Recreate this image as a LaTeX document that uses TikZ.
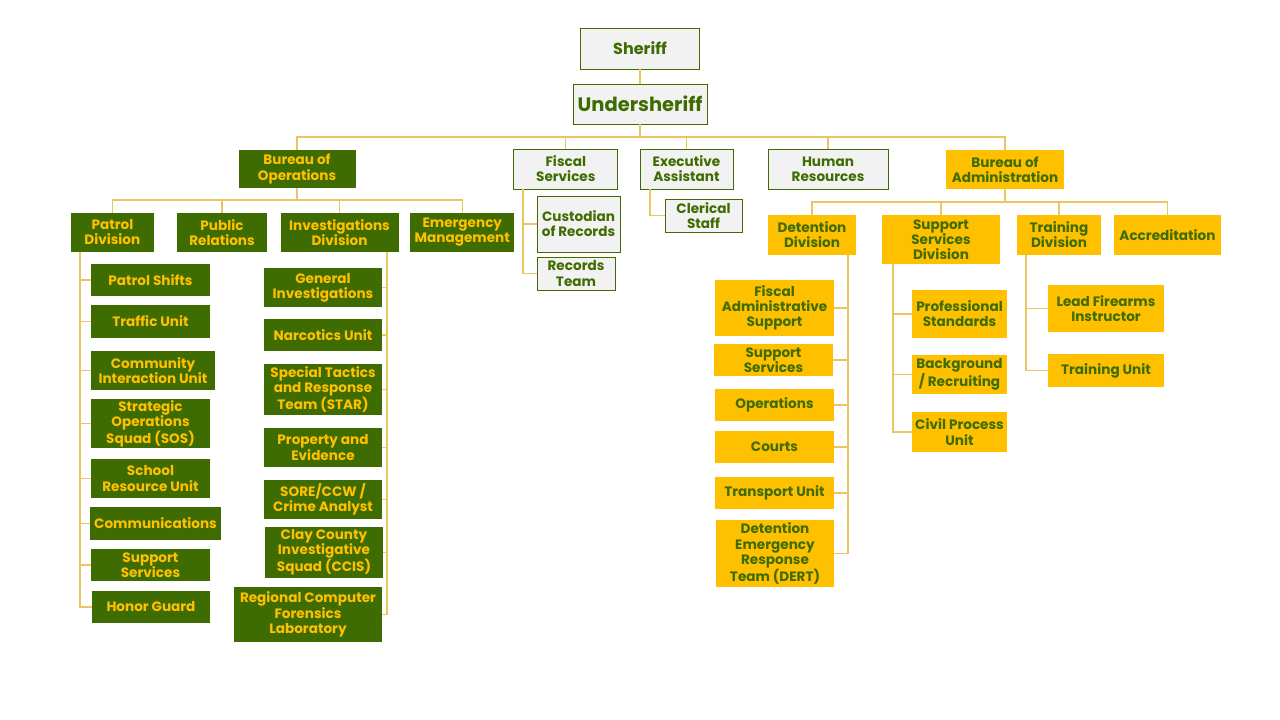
\documentclass[tikz,border=0pt]{standalone}
\usepackage{fontspec}
\setmainfont{Poppins}
\definecolor{dg}{HTML}{3E6C00}
\definecolor{yl}{HTML}{FFC000}
\definecolor{gy}{HTML}{F2F2F2}
\definecolor{ln}{HTML}{EBC660}
\tikzset{
  box/.style={inner sep=0pt, align=center, font=\fontsize{13.6}{15.2}\selectfont\bfseries},
  gbox/.style={box, fill=dg, text=yl},
  ybox/.style={box, fill=yl, text=dg},
  wbox/.style={box, fill=gy, text=dg, draw=dg, line width=0.8pt},
  sz/.style 2 args={minimum width=#1pt, minimum height=#2pt},
  conn/.style={draw=ln, line width=1.3pt},
}
\begin{document}
\begin{tikzpicture}[x=1pt,y=-1pt]
\useasboundingbox (0,0) rectangle (1280,720);
\fill[white] (0,0) rectangle (1280,720);

% ---------- top ----------
\node[wbox, sz={119}{41}, font=\fontsize{16}{18}\selectfont\bfseries] (sheriff) at (640,48.5) {Sheriff};
\node[wbox, sz={134}{40}, font=\fontsize{19.5}{22}\selectfont\bfseries] (under) at (640,104) {Undersheriff};

\node[gbox, sz={117}{38}] (boo) at (297,169) {Bureau of\\Operations};
\node[wbox, sz={104}{40}] (fiscal) at (565.8,169) {Fiscal\\Services};
\node[wbox, sz={93}{40}] (exec) at (686.5,169) {Executive\\Assistant};
\node[wbox, sz={120}{40}] (hr) at (828,169) {Human\\Resources};
\node[ybox, sz={118}{39}] (boa) at (1005,169.5) {Bureau of\\Administration};

% ---------- operations ----------
\node[gbox, sz={83}{39}] (patrol) at (112.4,232.3) {Patrol\\Division};
\node[gbox, sz={90}{39}] (pr) at (222,232.3) {Public\\Relations};
\node[gbox, sz={118}{39}] (inv) at (339.5,232.3) {Investigations\\Division};
\node[gbox, sz={104}{39}] (emg) at (462.3,232.3) {Emergency\\Management};

\node[gbox, sz={119}{32}] (ps) at (150.5,280) {Patrol Shifts};
\node[gbox, sz={119}{33}] (tu) at (150.5,321.5) {Traffic Unit};
\node[gbox, sz={124}{39}] (ciu) at (153,370.5) {Community\\Interaction Unit};
\node[gbox, sz={119}{49}] (sos) at (150.5,423.5) {Strategic\\Operations\\Squad (SOS)};
\node[gbox, sz={119}{39}] (sru) at (150.5,478.5) {School\\Resource Unit};
\node[gbox, sz={131}{33}] (com) at (155.5,523.5) {Communications};
\node[gbox, sz={119}{32}] (pss) at (150.5,565) {Support\\Services};
\node[gbox, sz={118}{32}] (hg) at (151,607) {Honor Guard};

\node[gbox, sz={118}{39}] (gi) at (323,287.5) {General\\Investigations};
\node[gbox, sz={118}{32}] (nu) at (323,335) {Narcotics Unit};
\node[gbox, sz={118}{51}] (star) at (323,389.5) {Special Tactics\\and Response\\Team (STAR)};
\node[gbox, sz={118}{39}] (pe) at (323,447.5) {Property and\\Evidence};
\node[gbox, sz={118}{39}] (sore) at (323,499.5) {SORE/CCW /\\Crime Analyst};
\node[gbox, sz={118}{51}] (ccis) at (324,552.5) {Clay County\\Investigative\\Squad (CCIS)};
\node[gbox, sz={148}{55}] (rcfl) at (308,614.5) {Regional Computer\\Forensics\\Laboratory};

% ---------- fiscal / exec ----------
\node[wbox, sz={83}{56}] (cor) at (578.5,224) {Custodian\\of Records};
\node[wbox, sz={78}{33}] (rt) at (576,273.5) {Records\\Team};
\node[wbox, sz={77}{33}] (cs) at (703.5,215.5) {Clerical\\Staff};

% ---------- administration ----------
\node[ybox, sz={88}{40}] (det) at (812,235) {Detention\\Division};
\node[ybox, sz={118}{49}] (ssd) at (941,239.5) {Support\\Services\\Division};
\node[ybox, sz={84}{40}] (trd) at (1059,235) {Training\\Division};
\node[ybox, sz={107}{40}] (acc) at (1167.5,235) {Accreditation};

\node[ybox, sz={119}{56}] (fas) at (774.5,308) {Fiscal\\Administrative\\Support};
\node[ybox, sz={119}{32}] (dss) at (773.5,360) {Support\\Services};
\node[ybox, sz={119}{32}] (ops) at (774.5,405) {Operations};
\node[ybox, sz={119}{32}] (crt) at (774.5,447) {Courts};
\node[ybox, sz={119}{32}] (tpu) at (774.5,493) {Transport Unit};
\node[ybox, sz={118}{67}] (dert) at (775,553.5) {Detention\\Emergency\\Response\\Team (DERT)};

\node[ybox, sz={95}{48}] (pst) at (959.5,314) {Professional\\Standards};
\node[ybox, sz={95}{39}] (bgr) at (959.5,374.5) {Background\\/ Recruiting};
\node[ybox, sz={95}{40}] (cpu) at (959.5,432) {Civil Process\\Unit};

\node[ybox, sz={116}{47}] (lfi) at (1106,308.5) {Lead Firearms\\Instructor};
\node[ybox, sz={116}{33}] (tun) at (1106,370.5) {Training Unit};

% ---------- connectors ----------
\begin{scope}[conn]
\draw (sheriff.south) -- (under.north);
\coordinate (mainbus) at (640,137);
\draw (under.south) -- (mainbus);
\draw (boo.north) |- (boa.north |- mainbus) -- (boa.north);
\foreach \n in {fiscal,exec,hr} \draw (\n.north) -- (\n.north |- mainbus);

\coordinate (boobus) at (297,200);
\draw (boo.south) -- (boobus);
\draw (patrol.north) |- (emg.north |- boobus) -- (emg.north);
\foreach \n in {pr,inv} \draw (\n.north) -- (\n.north |- boobus);

\coordinate (pspine) at (80,252);
\draw (pspine) |- (hg.west);
\foreach \n in {ps,tu,ciu,sos,sru,com,pss} \draw (pspine |- \n.west) -- (\n.west);

\coordinate (ispine) at (387,252);
\draw (ispine) |- (rcfl.east);
\foreach \n in {gi,nu,star,pe,sore,ccis} \draw (ispine |- \n.east) -- (\n.east);

\coordinate (fspine) at (523,189);
\draw (fspine) |- (rt.west);
\draw (fspine |- cor.west) -- (cor.west);
\coordinate (espine) at (650,189);
\draw (espine) |- (cs.west);

\coordinate (boabus) at (1005,202);
\draw (boa.south) -- (boabus);
\draw (det.north) |- (acc.north |- boabus) -- (acc.north);
\foreach \n in {ssd,trd} \draw (\n.north) -- (\n.north |- boabus);

\coordinate (dspine) at (848,255);
\draw (dspine) |- (dert.east);
\foreach \n in {fas,dss,ops,crt,tpu} \draw (dspine |- \n.east) -- (\n.east);

\coordinate (sspine) at (893,264);
\draw (sspine) |- (cpu.west);
\foreach \n in {pst,bgr} \draw (sspine |- \n.west) -- (\n.west);

\coordinate (tspine) at (1026,255);
\draw (tspine) |- (tun.west);
\draw (tspine |- lfi.west) -- (lfi.west);
\end{scope}
\end{tikzpicture}
\end{document}
